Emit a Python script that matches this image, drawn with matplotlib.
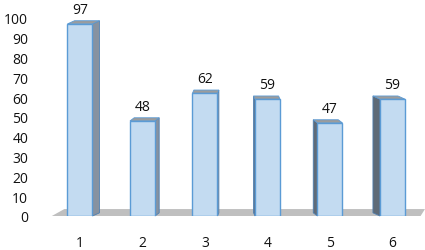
import matplotlib.pyplot as plt
from matplotlib.patches import Polygon

categories = ["1", "2", "3", "4", "5", "6"]
values = [97, 48, 62, 59, 47, 59]
yticks = [0, 10, 20, 30, 40, 50, 60, 70, 80, 90, 100]

plt.rcParams["font.family"] = ["Open Sans", "DejaVu Sans"]

fig = plt.figure(figsize=(4.25, 2.51), dpi=100)
ax = fig.add_axes([0.122, 0.1355, 0.875, 0.789])

x = list(range(1, len(values) + 1))
w = 0.4
depth = 1.6  # fake 3d depth in data units (y)

# grey floor
floor = Polygon([(0.55, 0), (0.75, 3.5), (6.52, 3.5), (6.45, 0)],
                closed=True, facecolor="#bfbfbf", edgecolor="none", clip_on=False, zorder=1)
ax.add_patch(floor)

for xi, v in zip(x, values):
    dx = -(xi - 3.5) * 0.045
    xl, xr = xi - w / 2, xi + w / 2
    # side face
    if dx > 0:
        side = [(xr, 0), (xr + dx, depth), (xr + dx, v + depth), (xr, v)]
        sc = "#8792a0"
    else:
        side = [(xl, 0), (xl + dx, depth), (xl + dx, v + depth), (xl, v)]
        sc = "#5f6b78"
    ax.add_patch(Polygon(side, closed=True, facecolor=sc, edgecolor="#4f7fb0",
                         linewidth=0.6, zorder=2, clip_on=False))
    top = [(xl, v), (xl + dx, v + depth), (xr + dx, v + depth), (xr, v)]
    ax.add_patch(Polygon(top, closed=True, facecolor="#9c9c9c", edgecolor="#5b9bd5",
                         linewidth=0.6, zorder=2, clip_on=False))
    ax.text(xi, v + 7.5, str(v), ha="center", va="center", fontsize=10, color="#111111")

ax.bar(x, values, width=w, color="#c3dbf1", edgecolor="#5b9bd5", linewidth=1.0, zorder=3)

ax.set_xlim(0.55, 6.5)
ax.set_ylim(0, 100)
ax.set_xticks(x)
ax.set_xticklabels(categories)
ax.set_yticks(yticks)
ax.tick_params(axis="both", length=0, labelsize=10, colors="#111111")
ax.tick_params(axis="x", pad=14)
ax.tick_params(axis="y", pad=17)
for s in ax.spines.values():
    s.set_visible(False)

fig.savefig("out.png", dpi=100)
